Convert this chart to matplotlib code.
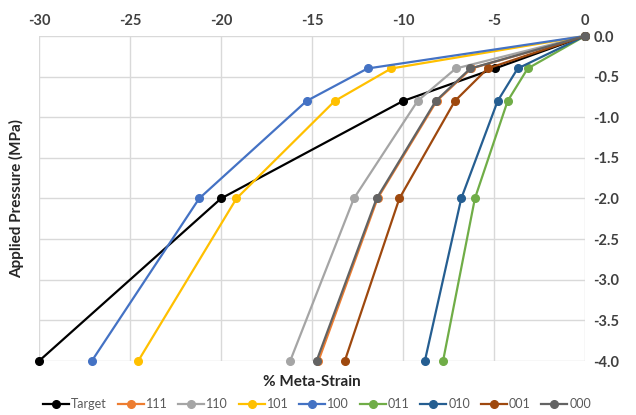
import matplotlib
matplotlib.use("Agg")
import matplotlib.pyplot as plt

plt.rcParams['font.family'] = ['Lato', 'DejaVu Sans']
plt.rcParams['axes.unicode_minus'] = False

pressure = [0.0, -0.4, -0.8, -2.0, -4.0]

labels = ["Target", "111", "110", "101", "100", "011", "010", "001", "000"]
strain_target = [0.0, -4.95, -10.0, -20.0, -30.0]
strain_111 = [0.0, -6.25, -8.15, -11.4, -14.65]
strain_110 = [0.0, -7.1, -9.2, -12.7, -16.2]
strain_101 = [0.0, -10.65, -13.75, -19.15, -24.55]
strain_100 = [0.0, -11.95, -15.3, -21.2, -27.1]
strain_011 = [0.0, -3.15, -4.25, -6.05, -7.8]
strain_010 = [0.0, -3.7, -4.8, -6.8, -8.8]
strain_001 = [0.0, -5.35, -7.15, -10.2, -13.2]
strain_000 = [0.0, -6.3, -8.2, -11.45, -14.75]

series = [strain_target, strain_111, strain_110, strain_101, strain_100,
          strain_011, strain_010, strain_001, strain_000]
colors = ["#000000", "#ED7D31", "#A5A5A5", "#FFC000", "#4472C4",
          "#70AD47", "#255E91", "#9E480E", "#636363"]

fig = plt.figure(figsize=(6.36, 4.15), dpi=100)
ax = fig.add_axes([39 / 636, 1 - 361 / 415, (585 - 39) / 636, (361 - 36) / 415])

for lab, xs, c in zip(labels, series, colors):
    ax.plot(xs, pressure, color=c, lw=1.6, marker="o", ms=5.5, label=lab, clip_on=False)

ax.set_xlim(-30, 0)
ax.set_ylim(-4, 0)
ax.set_xticks(range(-30, 1, 5))
ax.set_yticks([-4 + 0.5 * i for i in range(9)])
ax.yaxis.set_major_formatter(matplotlib.ticker.FormatStrFormatter("%.1f"))
ax.xaxis.tick_top()
ax.yaxis.tick_right()
ax.tick_params(length=0, labelsize=10.5, colors="#404040", pad=6)
for t in ax.get_xticklabels() + ax.get_yticklabels():
    t.set_fontweight("bold")

ax.grid(True, color="#D9D9D9", lw=1)
ax.set_axisbelow(True)
for s in ax.spines.values():
    s.set_visible(False)

fig.text(17 / 636, 1 - 198 / 415, "Applied Pressure (MPa)", rotation=90,
         ha="center", va="center", fontsize=11, fontweight="bold", color="#262626")
fig.text(312 / 636, 1 - 382 / 415, "% Meta-Strain", ha="center", va="center",
         fontsize=11, fontweight="bold", color="#262626")

leg = fig.legend(loc="center", bbox_to_anchor=(317 / 636, 1 - 404 / 415), ncol=9,
                 frameon=False, fontsize=9, handlelength=2.1, handletextpad=0.15,
                 columnspacing=0.85, labelcolor="#595959")

fig.savefig("out.png", dpi=100)
